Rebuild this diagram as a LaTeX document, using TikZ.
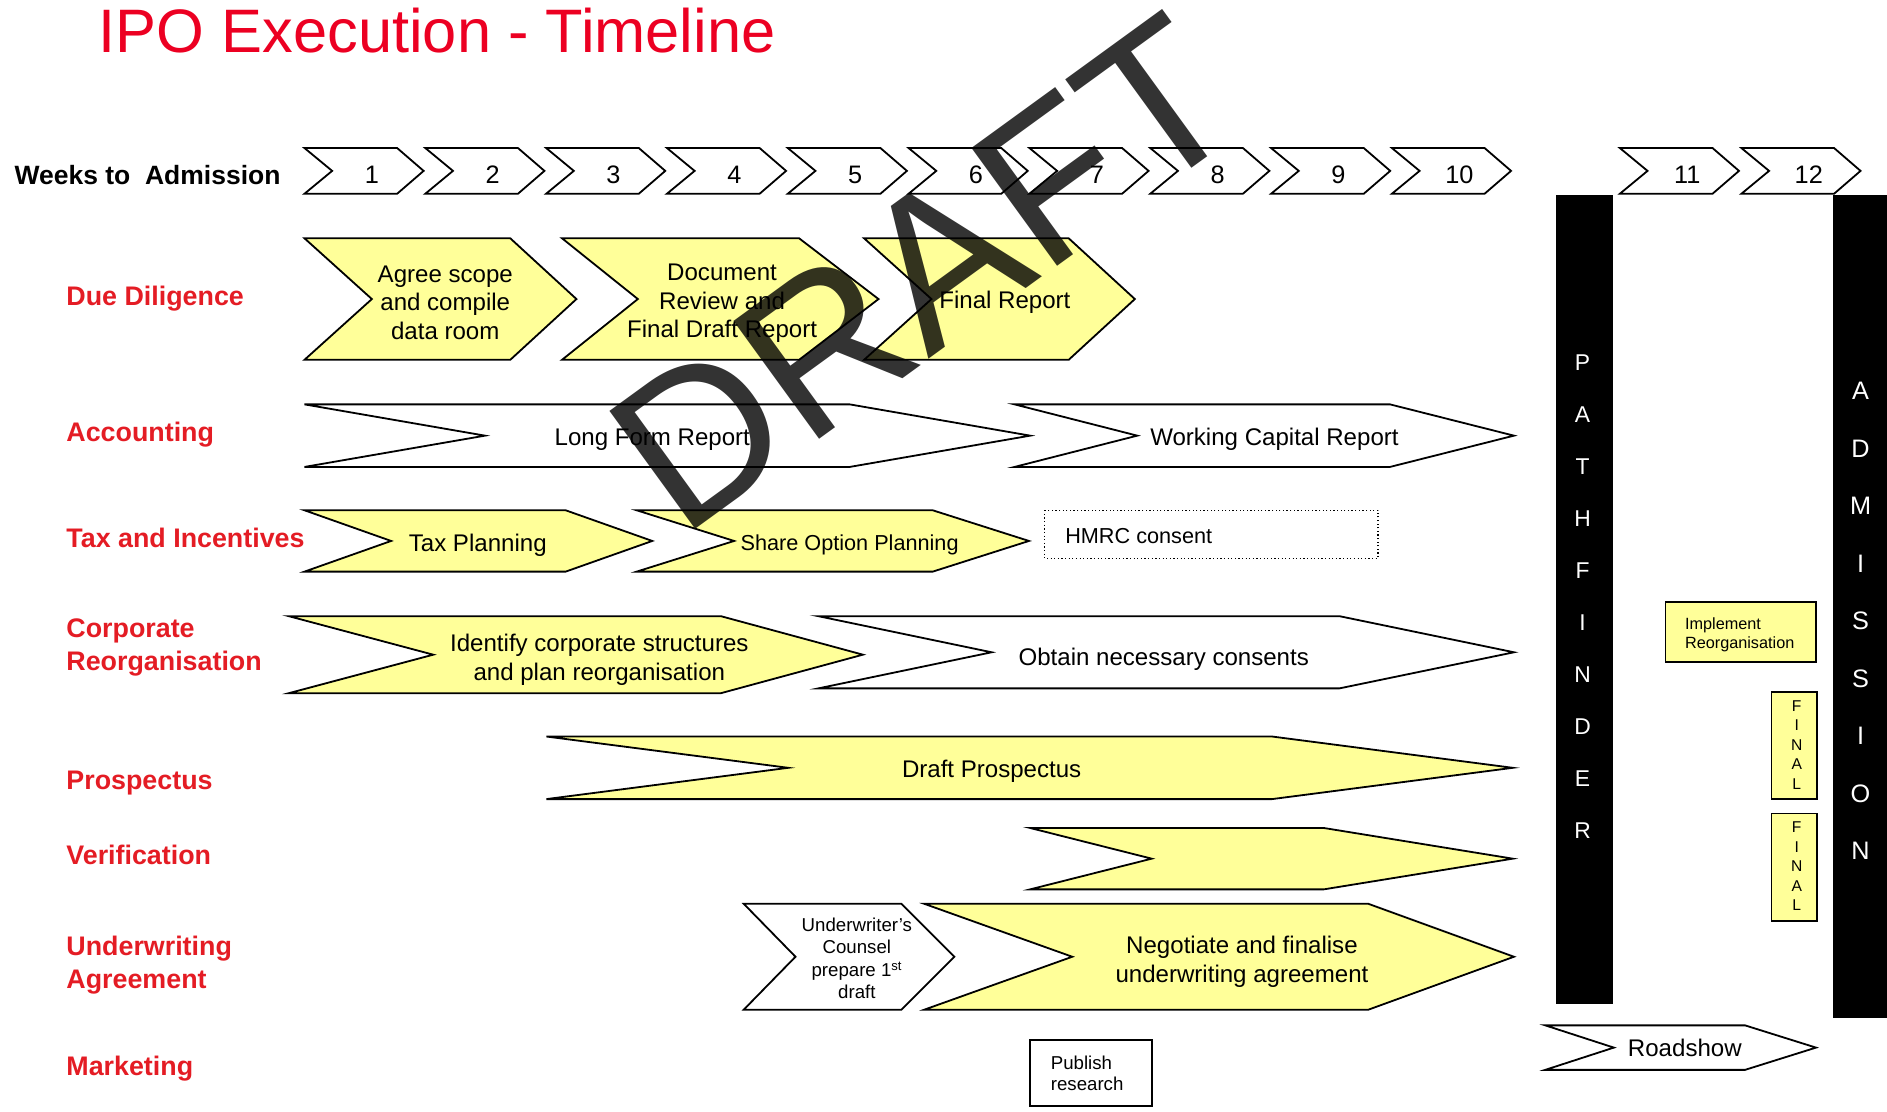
\documentclass[tikz,border=0pt]{standalone}
\usepackage{fontspec}
\setmainfont{Liberation Sans}
\definecolor{cyel}{RGB}{255,255,153}
\definecolor{tred}{RGB}{236,0,34}
\definecolor{lred}{RGB}{228,28,36}
\newcommand\mychev[7]{\draw[#7] (#1,#5) -- (#3,#5) -- (#4,{(#5+#6)/2}) -- (#3,#6) -- (#1,#6) -- (#2,{(#5+#6)/2}) -- cycle;}
\begin{document}
\begin{tikzpicture}[x=1pt,y=-1pt,
  ychev/.style={draw=black, line width=1.5pt, fill=cyel, line join=miter},
  wchev/.style={draw=black, line width=1.5pt, fill=white, line join=miter},
  t20/.style={font=\fontsize{20}{23.5}\selectfont, align=center, inner sep=0pt},
  b20/.style={font=\fontsize{20}{24}\selectfont, anchor=base, inner sep=0pt},
  wk/.style={font=\fontsize{21}{25}\selectfont, anchor=base, inner sep=0pt},
  lbl/.style={font=\bfseries\fontsize{22.3}{27}\selectfont, text=lred, anchor=base west, inner sep=0pt},
  lbltwo/.style={font=\bfseries\fontsize{22.3}{27}\selectfont, text=lred, anchor=north west, inner sep=0pt, align=left},
  boxtxt/.style={anchor=north west, inner sep=0pt, align=left},
  vert/.style={align=center, inner sep=0pt, text=white}
]
\useasboundingbox (0,0) rectangle (1568,924);

% title and header
\node[anchor=base west, inner sep=0pt, font=\fontsize{51}{60}\selectfont, text=tred] (title) at (82,44) {IPO Execution - Timeline};
\node[anchor=base west, inner sep=0pt, font=\bfseries\fontsize{22}{26}\selectfont] (weeks) at (12,153) {Weeks to\ \ Admission};

% week chevrons
\foreach \i in {1,...,10}{
  \pgfmathsetmacro\L{253+100.4*(\i-1)}
  \mychev{\L}{\L+23}{\L+77}{\L+99}{123}{161}{wchev}
  \node[wk] (w\i) at (\L+56,152.5) {\i};
}
\mychev{1346}{1369}{1423}{1445}{123}{161}{wchev}
\node[wk] (w11) at (1402,152.5) {11};
\mychev{1447}{1470}{1524}{1546}{123}{161}{wchev}
\node[wk] (w12) at (1503,152.5) {12};

% black bars
\fill[black] (1293,162) rectangle (1340,834);
\fill[black] (1523,162) rectangle (1568,846);
\node[vert, font=\fontsize{19}{43.2}\selectfont] (pathf) at (1315,495.5) {P\\A\\T\\H\\F\\I\\N\\D\\E\\R};
\node[vert, font=\fontsize{21}{47.75}\selectfont] (admis) at (1546,516) {A\\D\\M\\I\\S\\S\\I\\O\\N};

% row labels
\node[lbl] (ldd) at (55,254) {Due Diligence};
\node[lbl] (lacc) at (55,367) {Accounting};
\node[lbl] (ltax) at (55,455) {Tax and Incentives};
\node[lbltwo] (lcorp) at (55,514) {Corporate\\Reorganisation};
\node[lbl] (lpro) at (55,656) {Prospectus};
\node[lbl] (lver) at (55,718) {Verification};
\node[lbltwo] (lund) at (55,778) {Underwriting\\Agreement};
\node[lbl] (lmkt) at (55,894) {Marketing};

% due diligence
\mychev{253}{309}{424}{479}{198}{299}{ychev}
\mychev{467}{530}{664}{730}{198}{299}{ychev}
\mychev{718}{774}{888}{943}{198}{299}{ychev}
\node[t20] (dd1) at (370,251.5) {Agree scope\\and compile\\data room};
\node[t20] (dd2) at (600,252) {Document\\Review and\\Final Draft Report};
\node[b20] (dd3) at (835,256) {Final Report};

% accounting
\mychev{253}{403}{706}{856}{336}{388}{wchev}
\mychev{843}{945}{1155}{1258}{336}{388}{wchev}
\node[b20] (acc1) at (542,370) {Long Form Report};
\node[b20] (acc2) at (1059,370) {Working Capital Report};

% tax
\mychev{253}{325}{470}{542}{424}{475}{ychev}
\mychev{529}{610}{775}{855}{424}{475}{ychev}
\node[b20] (tax1) at (397,458) {Tax Planning};
\node[anchor=base, inner sep=0pt, font=\fontsize{18}{22}\selectfont] (tax2) at (706,457.4) {Share Option Planning};
\draw[dotted, line width=1pt] (868,424) rectangle (1145,464);
\node[anchor=base west, inner sep=0pt, font=\fontsize{18}{22}\selectfont] (hmrc) at (885,451.4) {HMRC consent};

% corporate reorganisation
\mychev{240}{360}{599}{717}{512}{576}{ychev}
\mychev{680}{824}{1113}{1258}{512}{572}{wchev}
\node[t20, font=\fontsize{20}{24}\selectfont] (cr1) at (498,548) {Identify corporate structures\\and plan reorganisation};
\node[b20] (cr2) at (967,553) {Obtain necessary consents};
\draw[fill=cyel, line width=1.5pt] (1384,500) rectangle (1509,550);
\node[boxtxt, font=\fontsize{13.5}{16}\selectfont] (impl) at (1400,513) {Implement\\Reorganisation};

% prospectus
\mychev{454}{655}{1057}{1257}{612}{664}{ychev}
\node[b20] (pro1) at (824,646) {Draft Prospectus};
\draw[fill=cyel, line width=1.5pt] (1472,575) rectangle (1510,664);
\node[vert, text=black, font=\fontsize{13}{16.25}\selectfont] (fin1) at (1493,619) {F\\I\\N\\A\\L};

% verification
\mychev{856}{957}{1100}{1257}{688}{739}{ychev}
\draw[fill=cyel, line width=1.5pt] (1472,676) rectangle (1510,765);
\node[vert, text=black, font=\fontsize{13}{16.25}\selectfont] (fin2) at (1493,720) {F\\I\\N\\A\\L};

% underwriting
\mychev{618}{661}{749}{793}{751}{839}{wchev}
\mychev{768}{891}{1137}{1258}{751}{839}{ychev}
\node[t20, font=\fontsize{15.5}{18.7}\selectfont] (uw1) at (712,796.5) {Underwriter’s\\Counsel\\prepare 1\textsuperscript{st}\\draft};
\node[t20, font=\fontsize{20}{24}\selectfont] (uw2) at (1032,799) {Negotiate and finalise\\underwriting agreement};

% marketing
\draw[line width=1.5pt] (856,864) rectangle (957,919);
\node[boxtxt, font=\fontsize{15.5}{18}\selectfont] (pub) at (873,877) {Publish\\research};
\mychev{1284}{1341}{1450}{1509}{852}{889}{wchev}
\node[b20] (road) at (1400,878) {Roadshow};

% watermark
\node[rotate=36, anchor=base west, inner sep=0pt, font=\fontsize{176}{176}\selectfont, text=black, text opacity=0.8] (wm) at (566,448) {DRAFT};
\end{tikzpicture}
\end{document}
